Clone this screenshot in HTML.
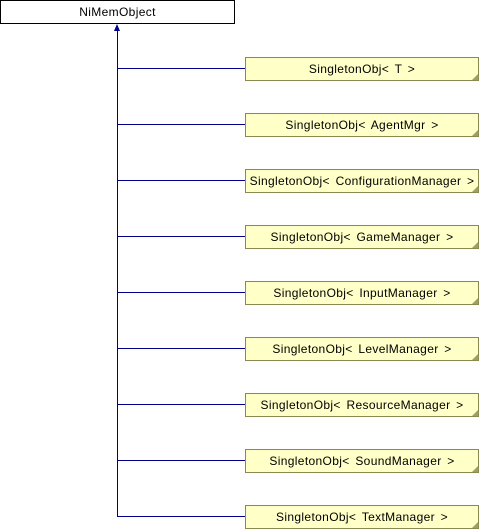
<!DOCTYPE html>
<html><head><style>
body{margin:0;width:480px;height:528px;background:#fff;position:relative;font-family:"Liberation Sans",sans-serif;font-size:12px;overflow:hidden}
.b{position:absolute;box-sizing:border-box;text-align:center;line-height:22px;white-space:nowrap;letter-spacing:0.35px;word-spacing:2px}
.top{left:0;top:0;width:235px;height:24px;border:1px solid #000;background:#fff}
.c{left:245px;width:234px;height:24px;border:1px solid #8a8a50;background:#ffffc8}
.c:after{content:"";position:absolute;right:0;bottom:0;border-left:6px solid transparent;border-bottom:6px solid #a0a060}
.h{position:absolute;left:117px;width:128px;height:1px;background:#00008b}
</style></head><body>
<div class="b top">NiMemObject</div>
<div style="position:absolute;left:117px;top:30px;width:1px;height:487px;background:#00008b"></div>
<div style="position:absolute;left:114px;top:24px;width:0;height:0;border-left:3.5px solid transparent;border-right:3.5px solid transparent;border-bottom:7px solid #00008b"></div>
<div class="h" style="top:68px"></div><div class="b c" style="top:57px">SingletonObj&lt; T &gt;</div>
<div class="h" style="top:124px"></div><div class="b c" style="top:113px">SingletonObj&lt; AgentMgr &gt;</div>
<div class="h" style="top:180px"></div><div class="b c" style="top:169px">SingletonObj&lt; ConfigurationManager &gt;</div>
<div class="h" style="top:236px"></div><div class="b c" style="top:225px">SingletonObj&lt; GameManager &gt;</div>
<div class="h" style="top:292px"></div><div class="b c" style="top:281px">SingletonObj&lt; InputManager &gt;</div>
<div class="h" style="top:348px"></div><div class="b c" style="top:337px">SingletonObj&lt; LevelManager &gt;</div>
<div class="h" style="top:404px"></div><div class="b c" style="top:393px">SingletonObj&lt; ResourceManager &gt;</div>
<div class="h" style="top:460px"></div><div class="b c" style="top:449px">SingletonObj&lt; SoundManager &gt;</div>
<div class="h" style="top:516px"></div><div class="b c" style="top:505px">SingletonObj&lt; TextManager &gt;</div>
</body></html>
